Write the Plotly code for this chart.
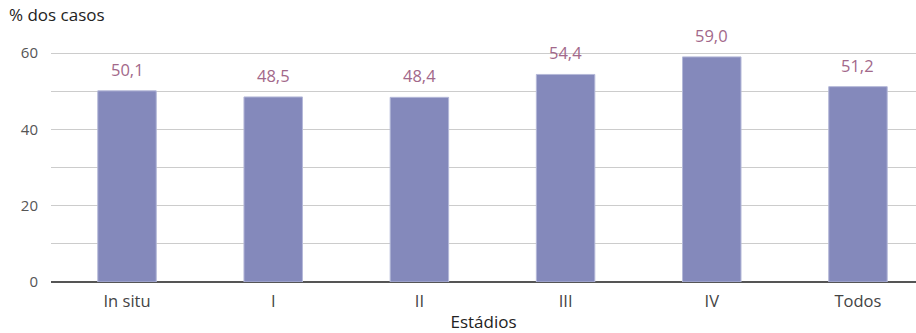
import plotly.graph_objects as go

# Proportion of cases by stage
estadios = ["In situ", "I", "II", "III", "IV", "Todos"]
percentagens = [50.1, 48.5, 48.4, 54.4, 59.0, 51.2]
rotulos = ["50,1", "48,5", "48,4", "54,4", "59,0", "51,2"]
y_ticks = [0, 20, 40, 60]

FONT = "Open Sans"
BAR_COLOR = "#8489bb"
LABEL_COLOR = "#a2688a"

fig = go.Figure()
fig.add_trace(go.Bar(
    x=list(range(len(estadios))),
    y=percentagens,
    width=0.40,
    marker=dict(color=BAR_COLOR, line=dict(color="#b4b8d8", width=1)),
    hoverinfo="skip",
))

for i, (v, t) in enumerate(zip(percentagens, rotulos)):
    fig.add_annotation(
        x=i, y=v, text=t, showarrow=False, yanchor="bottom", yshift=8,
        font=dict(family=FONT, size=16.5, color=LABEL_COLOR),
    )

fig.add_annotation(
    text="% dos casos", xref="paper", yref="paper", x=-0.051, y=1.0,
    xanchor="left", yanchor="bottom", yshift=6, showarrow=False,
    font=dict(family=FONT, size=17, color="#222222"),
)

fig.update_layout(
    width=916, height=333,
    margin=dict(l=51, r=0, t=34, b=51),
    paper_bgcolor="white", plot_bgcolor="white",
    showlegend=False,
    font=dict(family=FONT),
    xaxis=dict(
        tickmode="array", tickvals=list(range(len(estadios))), ticktext=estadios,
        range=[-0.52, 5.397], showgrid=False, zeroline=False,
        showline=False, ticks="", ticklabelstandoff=7,
        tickfont=dict(family=FONT, size=16.5, color="#444444"),
        title=dict(text="Estádios", standoff=11,
                   font=dict(family=FONT, size=17, color="#222222")),
    ),
    yaxis=dict(
        range=[0, 65], showgrid=True, gridcolor="#cccccc", gridwidth=1,
        tickmode="array", tickvals=[0, 10, 20, 30, 40, 50, 60],
        ticktext=["0", "", "20", "", "40", "", "60"],
        zeroline=True, zerolinecolor="#555555", zerolinewidth=2,
        ticks="", ticklabelstandoff=12,
        tickfont=dict(family=FONT, size=15, color="#555555"),
    ),
)

fig.write_html("out.html")
